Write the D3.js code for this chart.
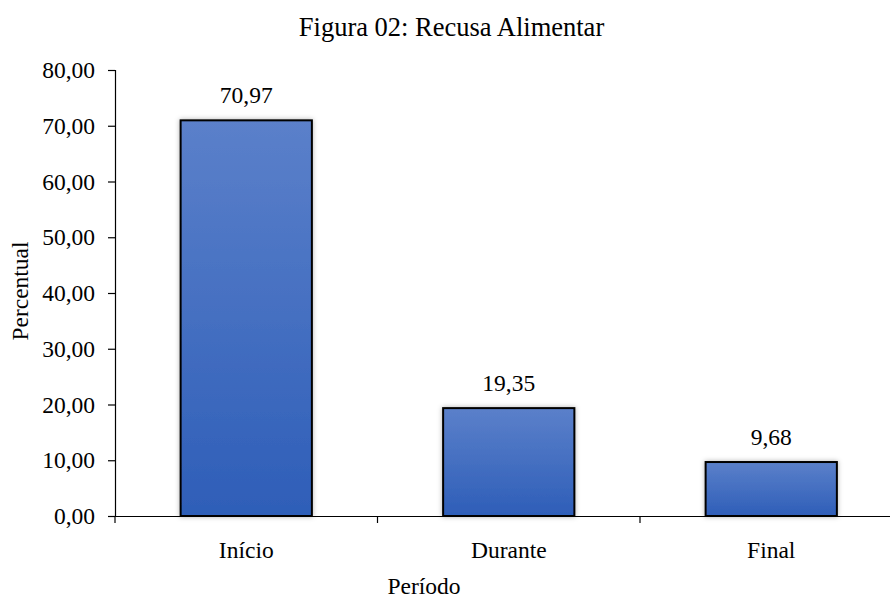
<!DOCTYPE html>
<html><head><meta charset="utf-8">
<script src="https://cdn.jsdelivr.net/npm/d3@7"></script>
<style>body{margin:0;background:#fff}svg{display:block}svg text{font-family:"Liberation Serif",serif !important;fill:#000}</style>
</head><body>
<svg id="c" width="890" height="599"></svg>
<script>
const categories = ["Início", "Durante", "Final"];
const values = [70.97, 19.35, 9.68];
const yTicks = [0, 10, 20, 30, 40, 50, 60, 70, 80];
const title = "Figura 02: Recusa Alimentar";
const xTitle = "Período";
const yTitle = "Percentual";
const FS = 23.5;
const TFS = 26.5;

const svg = d3.select("#c");
const fmt = v => d3.format(".2f")(v).replace(".", ",");
const x = d3.scaleBand().domain(categories).range([115, 902.5]).paddingInner(0.5).paddingOuter(0.25);
const y = d3.scaleLinear().domain([0, 80]).range([516, 70]);

const defs = svg.append("defs");
const g = defs.append("linearGradient").attr("id", "bg").attr("x1", 0).attr("y1", 0).attr("x2", 0).attr("y2", 1);
g.append("stop").attr("offset", "0%").attr("stop-color", "#5b80ca");
g.append("stop").attr("offset", "100%").attr("stop-color", "#2e5eb8");
const f = defs.append("filter").attr("id", "sh").attr("x", "-20%").attr("y", "-20%").attr("width", "140%").attr("height", "140%");
f.append("feDropShadow").attr("dx", 0).attr("dy", 0).attr("stdDeviation", 2.5).attr("flood-color", "#000").attr("flood-opacity", 0.3);

svg.append("text").attr("x", 451.5).attr("y", 36).attr("text-anchor", "middle").style("font-size", TFS + "px").text(title);

svg.selectAll("rect.bar").data(values).enter().append("rect")
  .attr("class", "bar")
  .attr("x", (d, i) => x(categories[i]))
  .attr("y", d => y(d))
  .attr("width", x.bandwidth())
  .attr("height", d => y(0) - y(d))
  .attr("fill", "url(#bg)")
  .attr("stroke", "#000").attr("stroke-width", 2)
  .attr("filter", "url(#sh)");

svg.selectAll("text.val").data(values).enter().append("text")
  .attr("class", "val")
  .attr("x", (d, i) => x(categories[i]) + x.bandwidth() / 2)
  .attr("y", d => y(d) - 17)
  .attr("text-anchor", "middle").style("font-size", FS + "px")
  .text(d => fmt(d));

const ya = svg.append("g").attr("transform", "translate(115,0)")
  .call(d3.axisLeft(y).tickValues(yTicks).tickFormat(fmt).tickSize(7).tickPadding(13));
ya.selectAll("text").style("font-size", FS + "px");
ya.selectAll("line,path").attr("stroke", "#000").attr("stroke-width", 1.2);

const xa = svg.append("g").attr("transform", "translate(0,516)")
  .call(d3.axisBottom(x).tickSize(0).tickPadding(26));
xa.select("path").attr("stroke", "#000").attr("stroke-width", 1.2);
xa.selectAll("text").attr("y", 42).attr("dy", null).style("font-size", FS + "px");
const bounds = [0, 1, 2, 3].map(i => 115 + i * x.step());
svg.selectAll("line.xt").data(bounds).enter().append("line")
  .attr("x1", d => d).attr("x2", d => d).attr("y1", 516).attr("y2", 523)
  .attr("stroke", "#000").attr("stroke-width", 1.2);

svg.append("text").attr("x", 424).attr("y", 594).attr("text-anchor", "middle").style("font-size", FS + "px").text(xTitle);
svg.append("text").attr("transform", "translate(28,291) rotate(-90)").attr("text-anchor", "middle").style("font-size", FS + "px").text(yTitle);
</script>
</body></html>
